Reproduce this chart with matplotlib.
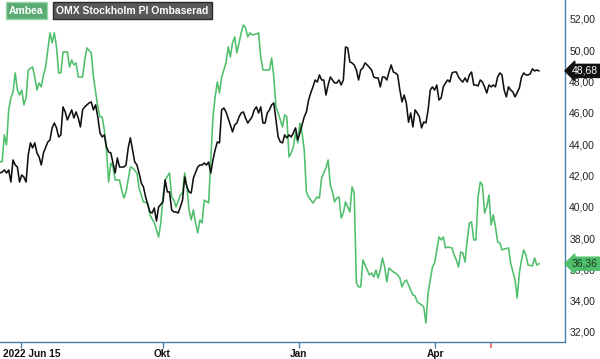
import matplotlib
matplotlib.use("Agg")
import matplotlib.pyplot as plt
import matplotlib.ticker as ticker
from matplotlib.transforms import ScaledTranslation

plt.rcParams['font.family'] = ['Liberation Sans', 'DejaVu Sans']

# trading day number (0 = start of period) and closing price, SEK
amb_day = [0, 1, 2, 3, 4, 5, 6, 7, 8, 9, 10, 11, 12, 13, 15, 16, 17, 18, 19, 20,
           21, 22, 23, 24, 25, 26, 27, 28, 29, 31, 32, 33, 34, 35, 36, 38, 39, 40, 42, 43,
           45, 46, 47, 48, 49, 50, 51, 52, 53, 55, 56, 57, 58, 60, 61, 63, 64, 66, 68, 69,
           71, 73, 74, 75, 76, 78, 79, 80, 81, 83, 84, 85, 86, 87, 88, 89, 90, 91, 92, 93,
           94, 96, 97, 98, 99, 100, 101, 102, 103, 104, 105, 106, 107, 108, 109, 110, 111, 112, 113, 114,
           115, 116, 118, 119, 120, 121, 123, 124, 125, 126, 127, 128, 130, 131, 132, 133, 134, 135, 136, 137,
           138, 139, 140, 141, 142, 143, 144, 146, 147, 148, 149, 150, 151, 152, 153, 154, 155, 156, 157, 158,
           159, 160, 161, 162, 163, 164, 165, 166, 167, 169, 170, 171, 172, 173, 174, 175, 176, 177, 178, 179,
           181, 182, 183, 184, 185, 186, 187, 188, 190, 191, 192, 194, 195, 196, 197, 199, 200, 201, 202, 203,
           204, 205, 206, 208, 209, 210, 211, 212, 213, 214, 215, 216, 217, 218, 219, 220, 221, 222, 223, 224,
           225, 226, 227, 228, 229, 230, 231, 232, 234, 235, 237, 238, 239, 240, 241, 242, 243, 245, 246, 247,
           248]
ambea = [42.88, 42.88, 44.59, 43.95, 46.19, 46.95, 47.34, 48.55, 47.46, 47.14, 47.46, 46.51, 46.95, 48.74, 48.93, 48.29, 47.46, 47.91, 47.66, 48.42,
         48.93, 50.02, 51.11, 50.47, 51.11, 50.21, 48.55, 48.55, 49.89, 49.89, 48.93, 49.38, 49.06, 49.19, 48.29, 48.29, 49.38, 50.15, 49.83, 48.29,
         46.38, 45.74, 45.74, 44.91, 43.63, 41.58, 42.80, 42.54, 41.71, 41.71, 41.07, 40.56, 40.95, 42.54, 42.48, 42.16, 41.20, 40.31, 40.24, 39.48,
         38.97, 38.07, 38.97, 40.63, 41.71, 42.16, 40.63, 40.43, 39.99, 40.75, 40.88, 42.16, 41.27, 39.80, 39.16, 39.80, 38.97, 38.33, 39.16, 38.97,
         40.43, 40.24, 42.99, 45.74, 47.02, 47.97, 47.27, 48.29, 48.74, 49.19, 50.21, 49.57, 50.47, 50.85, 49.83, 50.47, 51.11, 51.62, 51.43, 50.85,
         51.11, 50.98, 51.04, 51.11, 49.57, 48.74, 48.74, 48.74, 49.51, 48.29, 46.38, 45.99, 45.10, 45.87, 45.74, 43.18, 43.44, 43.82, 44.72, 44.08,
         45.35, 44.72, 43.63, 40.95, 40.63, 40.43, 40.24, 40.63, 40.56, 41.84, 42.16, 42.48, 42.99, 41.39, 40.95, 40.31, 40.56, 40.63, 39.28, 39.60,
         40.31, 39.99, 39.67, 41.27, 40.88, 35.13, 34.88, 34.88, 36.60, 35.96, 35.64, 35.77, 35.51, 35.96, 35.45, 35.96, 36.73, 36.15, 35.20, 36.09,
         35.83, 35.77, 35.64, 35.45, 34.88, 35.20, 35.32, 35.00, 34.36, 34.30, 33.92, 33.73, 33.60, 32.58, 34.49, 36.15, 36.41, 37.24, 38.07, 37.88,
         38.07, 37.37, 37.43, 37.37, 36.92, 36.60, 36.15, 37.11, 37.05, 36.47, 37.88, 38.97, 39.03, 37.88, 37.88, 40.63, 41.58, 41.39, 39.60, 39.99,
         40.75, 38.84, 39.48, 38.71, 37.75, 37.69, 37.24, 37.30, 37.37, 36.41, 35.32, 34.17, 35.77, 36.60, 37.24, 36.92, 36.28, 36.22, 36.73, 36.28,
         36.36]

omx_day = [0, 1, 2, 3, 4, 5, 6, 7, 8, 9, 10, 11, 12, 13, 14, 15, 16, 17, 18, 19,
           20, 22, 23, 24, 25, 26, 27, 28, 29, 30, 31, 33, 34, 35, 36, 37, 38, 39, 40, 41,
           42, 43, 44, 45, 46, 47, 48, 49, 50, 51, 52, 53, 54, 55, 57, 58, 59, 60, 61, 62,
           63, 64, 65, 66, 67, 68, 69, 70, 71, 72, 73, 75, 76, 77, 78, 79, 80, 81, 82, 83,
           84, 85, 86, 87, 88, 89, 91, 92, 93, 94, 95, 96, 97, 98, 99, 100, 101, 102, 103, 104,
           106, 107, 108, 109, 110, 111, 112, 113, 114, 116, 117, 118, 119, 120, 121, 122, 123, 124, 125, 126,
           127, 128, 129, 130, 131, 132, 133, 134, 135, 136, 137, 138, 139, 140, 141, 142, 143, 144, 145, 146,
           147, 148, 149, 150, 151, 152, 153, 154, 155, 156, 157, 158, 159, 160, 161, 162, 163, 164, 165, 166,
           167, 168, 169, 171, 172, 173, 174, 175, 176, 177, 178, 179, 180, 181, 182, 183, 184, 185, 186, 187,
           188, 189, 190, 191, 192, 193, 194, 195, 196, 197, 198, 199, 200, 201, 202, 203, 204, 205, 206, 207,
           208, 209, 210, 211, 212, 213, 214, 215, 216, 217, 218, 219, 220, 221, 222, 223, 224, 225, 226, 227,
           228, 229, 230, 231, 232, 233, 234, 235, 236, 237, 239, 240, 241, 242, 243, 244, 245, 246, 247, 248]
omx = [42.16, 42.22, 42.35, 42.16, 42.35, 41.58, 42.99, 42.67, 42.54, 41.58, 42.03, 41.90, 41.58, 43.31, 44.08, 43.76, 44.08, 43.44, 43.18, 42.67,
       43.44, 44.14, 44.27, 45.04, 45.35, 45.04, 44.46, 44.59, 46.38, 46.06, 45.55, 46.19, 45.67, 46.06, 45.67, 45.10, 46.19, 46.38, 46.51, 46.63,
       46.70, 46.19, 46.51, 45.74, 44.72, 44.46, 44.59, 43.82, 43.50, 43.44, 42.80, 42.16, 43.12, 42.54, 42.54, 42.67, 43.76, 44.40, 43.63, 42.86,
       42.67, 42.16, 41.52, 41.27, 40.63, 40.12, 39.67, 39.60, 39.92, 39.09, 39.99, 40.31, 41.71, 40.95, 40.95, 39.80, 39.67, 39.67, 39.60, 39.99,
       40.43, 41.90, 41.27, 40.95, 40.88, 41.84, 42.54, 42.67, 42.67, 42.80, 42.67, 42.86, 42.16, 42.99, 43.63, 44.14, 44.08, 46.19, 46.31, 46.06,
       45.23, 44.78, 45.23, 45.35, 45.74, 45.99, 46.06, 45.67, 45.35, 45.74, 46.19, 46.38, 45.99, 46.38, 45.35, 45.35, 45.99, 46.19, 46.51, 46.63,
       45.55, 44.46, 44.14, 44.08, 44.59, 44.40, 44.59, 44.46, 44.72, 45.04, 44.27, 44.72, 45.23, 45.74, 46.06, 46.82, 47.27, 47.66, 48.10, 47.97,
       48.42, 48.10, 48.10, 47.14, 47.78, 48.29, 48.10, 47.91, 47.91, 48.10, 47.78, 48.10, 50.21, 50.15, 49.25, 49.19, 49.06, 48.74, 48.10, 48.74,
       48.87, 49.19, 49.06, 48.74, 48.29, 48.23, 48.23, 47.66, 48.29, 48.29, 48.10, 48.61, 49.06, 48.61, 48.55, 48.42, 47.46, 46.70, 47.14, 46.60,
       45.40, 45.99, 45.10, 46.19, 45.99, 45.74, 45.04, 45.42, 45.35, 46.19, 47.46, 47.66, 47.46, 47.78, 46.82, 46.95, 47.66, 47.91, 48.10, 47.97,
       48.55, 48.61, 48.61, 48.29, 48.10, 47.97, 48.23, 47.97, 48.42, 48.61, 47.78, 47.78, 47.72, 48.10, 47.97, 47.66, 47.27, 47.78, 47.66, 47.78,
       47.66, 48.29, 48.55, 48.42, 47.46, 47.02, 47.66, 47.46, 47.34, 47.02, 47.59, 48.29, 48.55, 48.42, 48.42, 48.49, 48.81, 48.68, 48.74, 48.68]

tick_days = [9.8, 74.8, 137.6, 200.3]
tick_labels = ['2022 Jun 15', 'Okt', 'Jan', 'Apr']
marker_day = 226.1
y_ticks = [32, 34, 36, 38, 40, 42, 44, 46, 48, 50, 52]

green = '#4fbf6c'
axis_blue = '#4a80ab'

fig = plt.figure(figsize=(6, 3.59), dpi=100)
ax = fig.add_axes([0, 17 / 359, 565 / 600, 342 / 359])

ax.plot(amb_day, ambea, color=green, lw=1.15)
ax.plot(omx_day, omx, color='#111111', lw=1.15)

ax.set_xlim(0, 260)
ax.set_ylim(31.36, 53.21)

for s in ['top', 'left']:
    ax.spines[s].set_visible(False)
for s in ['right', 'bottom']:
    ax.spines[s].set_color(axis_blue)
    ax.spines[s].set_linewidth(1.0)

ax.yaxis.tick_right()
ax.set_yticks(y_ticks)
ax.yaxis.set_major_formatter(ticker.FuncFormatter(lambda v, p: f'{v:.2f}'.replace('.', ',')))
ax.tick_params(axis='y', length=0, pad=3, labelsize=7.5, labelcolor='#222222')

ax.set_xticks(tick_days)
ax.set_xticklabels(tick_labels, fontweight='bold')
ax.set_xticks([marker_day], minor=True)
ax.tick_params(axis='x', which='major', length=4, width=1, color=axis_blue, pad=1,
               labelsize=7.3, labelcolor='#111111')
ax.tick_params(axis='x', which='minor', length=4, width=1.2, color='#f06060')

# first label is pushed inside the figure
first = ax.get_xticklabels()[0]
first.set_ha('left')
first.set_transform(first.get_transform() + ScaledTranslation(-18.5 / 100, 0, fig.dpi_scale_trans))

# last value tags on the right axis
ax.annotate(f'{omx[-1]:.2f}'.replace('.', ','), xy=(1, omx[-1]), xycoords=('axes fraction', 'data'),
            xytext=(5, 0), textcoords='offset points', ha='left', va='center',
            fontsize=7.5, color='white', annotation_clip=False, zorder=10,
            bbox=dict(boxstyle='larrow,pad=0.15', fc='#111111', ec='#111111'))
ax.annotate(f'{ambea[-1]:.2f}'.replace('.', ','), xy=(1, ambea[-1]), xycoords=('axes fraction', 'data'),
            xytext=(5, 0), textcoords='offset points', ha='left', va='center',
            fontsize=7.5, color='#1a3a22', annotation_clip=False, zorder=10,
            bbox=dict(boxstyle='larrow,pad=0.15', fc=green, ec=green))

# legend boxes
fig.text(9 / 600, 1 - 10.5 / 359, 'Ambea', fontsize=7.5, fontweight='bold', color='white',
         va='center', ha='left',
         bbox=dict(boxstyle='square,pad=0.3', fc='#5aaa74', ec='#9ad6ab', lw=1))
fig.text(56 / 600, 1 - 10.5 / 359, 'OMX Stockholm PI Ombaserad', fontsize=7.5, fontweight='bold',
         color='white', va='center', ha='left',
         bbox=dict(boxstyle='square,pad=0.3', fc='#595959', ec='#2a2a2a', lw=1))

fig.savefig('out.png', dpi=100, facecolor='white')
